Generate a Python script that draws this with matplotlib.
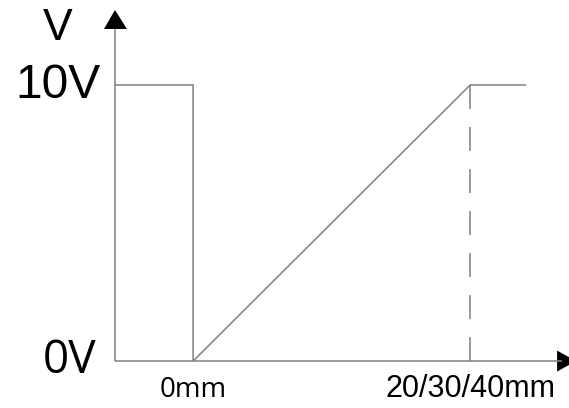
import matplotlib
matplotlib.use("Agg")
import matplotlib.pyplot as plt

# Data (x in units of full stroke: 0 = 0mm, 1 = 20/30/40mm; y in volts)
signal_x = [-0.282, 0.0, 0.0, 1.0, 1.2]
signal_v = [10, 10, 0, 10, 10]
x_ticks = [0.0, 1.0]
x_tick_labels = ["0mm", "20/30/40mm"]
y_ticks = [0, 10]
y_tick_labels = ["0V", "10V"]
y_axis_label = "V"

W, H = 569, 408
fig = plt.figure(figsize=(W / 100, H / 100), dpi=100)
ax = fig.add_axes([0, 0, 1, 1])
ax.set_xlim(-0.697, 1.357)
ax.set_ylim(-1.70, 13.08)
ax.axis("off")

gray = "#808080"
x0 = signal_x[0]
# axes lines
ax.plot([x0, x0], [0, 12.03], color=gray, lw=1.1, solid_capstyle="butt")
ax.plot([x0, 1.33], [0, 0], color=gray, lw=1.1, solid_capstyle="butt")

# arrow heads
pxx = 1 / 277.0   # data per pixel in x
pxy = 1 / 27.6    # data per pixel in y
ax.fill([x0 - 11 * pxx, x0 + 12 * pxx, x0], [12.03, 12.03, 12.03 + 19 * pxy],
        color="black", lw=0)
xa = 1.314
ax.fill([xa, xa, xa + 19 * pxx], [-10.5 * pxy, 10.5 * pxy, 0], color="black", lw=0)

# signal
ax.plot(signal_x, signal_v, color=gray, lw=1.1, solid_joinstyle="miter")

# dashed marker at full stroke
ax.plot([x_ticks[1], x_ticks[1]], [signal_v[-1], 0], color=gray, lw=1.1,
        linestyle=(0, (15.7, 11.8)))

# labels
ax.text(x0 - 57 * pxx, 12.03, y_axis_label, fontsize=32, family="Liberation Sans",
        ha="center", va="center")
ax.text(x0 - 57 * pxx, y_ticks[1], y_tick_labels[1], fontsize=34.5, family="Liberation Sans",
        ha="center", va="center")
ax.text(x0 - 45 * pxx, y_ticks[0], y_tick_labels[0], fontsize=33, family="Open Sans",
        ha="center", va="center")
ax.text(x_ticks[0], -29 * pxy, x_tick_labels[0], fontsize=20, family="Open Sans",
        ha="center", va="center")
ax.text(x_ticks[1], -28 * pxy, x_tick_labels[1], fontsize=22, family="Liberation Sans",
        ha="center", va="center")

fig.savefig("out.png", dpi=100)
